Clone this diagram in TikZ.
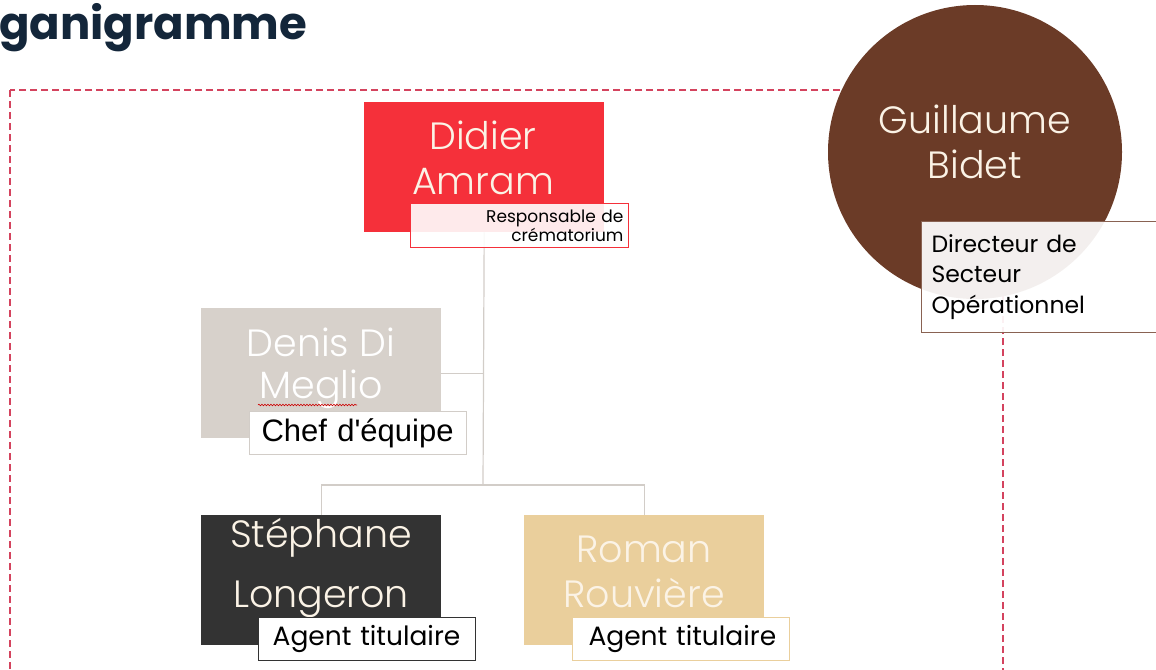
\documentclass[tikz,border=0pt]{standalone}
\usepackage{fontspec}
\setmainfont{Poppins}
\newfontfamily\namefont{Poppins Light}
\newfontfamily\tagfont{Poppins}
\newfontfamily\armfont{Liberation Sans}
\usetikzlibrary{decorations.pathmorphing}

\definecolor{titleink}{HTML}{13263A}
\definecolor{frameink}{HTML}{D4435E}
\definecolor{headred}{HTML}{F5303A}
\definecolor{stone}{HTML}{D7D1CB}
\definecolor{charcoal}{HTML}{333333}
\definecolor{sand}{HTML}{EACF9C}
\definecolor{umber}{HTML}{6B3B27}
\definecolor{linkgrey}{HTML}{D2CDC8}
\definecolor{cream}{HTML}{FBF3E6}

\tikzset{
  person/.style={rectangle, anchor=north west, inner sep=0pt,
    minimum width=240pt, minimum height=130pt},
  nametext/.style={text=cream, align=center, inner sep=0pt,
    font=\namefont\fontsize{38}{45}\selectfont},
  tagbox/.style={rectangle, anchor=north west, fill=white, line width=1pt,
    minimum width=217pt, minimum height=43pt, inner ysep=0pt, align=left},
  link/.style={draw=linkgrey, line width=1.2pt},
  frame/.style={draw=frameink, line width=1.4pt, dash pattern=on 7pt off 4pt},
}

\begin{document}
\begin{tikzpicture}[x=1pt, y=-1pt]
\useasboundingbox (0,0) rectangle (1156,669);

% page heading
\node[anchor=base west, inner sep=0pt, text=titleink,
      font=\bfseries\fontsize{45}{50}\selectfont] (heading) at (-1,40) {ganigramme};

% dashed frame around the team
\draw[frame] (10,90) rectangle (1003,700);

% boxes
\node[person, fill=headred] (didier) at (364,102) {};
\node[person, fill=stone] (denis) at (201,308) {};
\node[person, fill=charcoal] (stephane) at (201,515) {};
\node[person, fill=sand] (roman) at (524,515) {};

% hierarchy links
\coordinate (fork) at (483,485);
\draw[link] (didier.south) -- (fork);
\draw[link] (denis.east) -- (denis.east -| didier.south);
\draw[link] (stephane.north) |- (fork) -| (roman.north);

% names
\node[nametext] (didier-name) at (483,158) {Didier\\Amram};
\node[nametext, text=white, font=\namefont\fontsize{38}{42}\selectfont] (denis-name) at (321,368) {Denis Di\\Meglio};
\draw[red!80!black, line width=0.6pt, decorate,
      decoration={snake, segment length=3pt, amplitude=0.8pt}]
      (258,405) -- (357,405);
\node[nametext, font=\namefont\fontsize{38}{60}\selectfont] (stephane-name) at (321,568) {Stéphane\\Longeron};
\node[nametext] (roman-name) at (644,572) {Roman\\Rouvière};

% role tags
\node[tagbox, draw=headred, fill opacity=0.9, text opacity=1,
      minimum width=218pt, minimum height=44pt,
      text width=208pt, align=right, inner xsep=5pt,
      font=\tagfont\fontsize{17}{19}\selectfont] (didier-tag) at (410,203)
      {Responsable de\\crématorium};
\node[tagbox, draw=linkgrey, text width=193pt, inner xsep=12pt,
      font=\armfont\fontsize{31}{34}\selectfont] (denis-tag) at (249,411)
      {\mbox{Chef d'équipe}};
\node[tagbox, draw=charcoal, line width=1.3pt, text width=189pt, inner xsep=14pt,
      font=\tagfont\fontsize{26.5}{30}\selectfont] (stephane-tag) at (258,617)
      {\mbox{Agent titulaire}};
\node[tagbox, draw=sand, text width=185pt, inner xsep=16pt,
      font=\tagfont\fontsize{26.5}{30}\selectfont] (roman-tag) at (572,617)
      {\mbox{Agent titulaire}};

% sector director
\node[circle, fill=umber, minimum size=294pt, inner sep=0pt] (guillaume) at (975,152) {};
\node[nametext] (guillaume-name) at (975,142) {Guillaume\\Bidet};
\node[tagbox, draw=umber!80, fill opacity=0.92, text opacity=1,
      minimum width=240pt, minimum height=111pt,
      text width=220pt, inner xsep=10pt,
      font=\tagfont\fontsize{23.5}{30.5}\selectfont] (guillaume-tag) at (921,221)
      {Directeur de\\Secteur\\Opérationnel};
\end{tikzpicture}
\end{document}
